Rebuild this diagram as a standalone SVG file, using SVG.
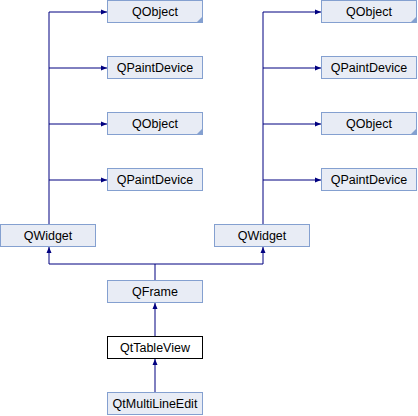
<svg xmlns="http://www.w3.org/2000/svg" width="418" height="416" viewBox="0 0 418 416">
<defs>
<style>
.n rect{fill:#e8ecf5;stroke:#84a0d0;stroke-width:1}
.n text{font-family:"Liberation Sans",Arial,sans-serif;font-size:12.5px;fill:#000;text-anchor:middle}
.n .c{fill:#84a0d0;stroke:none}
.e path{fill:none;stroke:#000080;stroke-width:1}
</style>
<marker id="a" viewBox="0 0 6 6" refX="6" refY="3" markerWidth="6" markerHeight="6" orient="auto" markerUnits="userSpaceOnUse">
<path d="M0,0.5 L6,3 L0,5.5 Z" fill="#000080"/>
</marker>
</defs>
<rect width="418" height="416" fill="#fff"/>
<g class="e" id="edges">
<path d="M49,224 V12 H107" marker-end="url(#a)"/>
<path d="M49,68 H107" marker-end="url(#a)"/>
<path d="M49,124 H107" marker-end="url(#a)"/>
<path d="M49,180 H107" marker-end="url(#a)"/>
<path d="M263,224 V12 H321" marker-end="url(#a)"/>
<path d="M263,68 H321" marker-end="url(#a)"/>
<path d="M263,124 H321" marker-end="url(#a)"/>
<path d="M263,180 H321" marker-end="url(#a)"/>
<path d="M155,280 V264 H49 V247" marker-end="url(#a)"/>
<path d="M155,264 H263 V247" marker-end="url(#a)"/>
<path d="M155,336 V303" marker-end="url(#a)"/>
<path d="M155,392 V359" marker-end="url(#a)"/>
</g>
<g class="n" id="n_qobject1"><rect x="107.5" y="0.5" width="95" height="22"/><polygon class="c" points="203,16 203,23 196,23"/><text x="155" y="16">QObject</text></g>
<g class="n" id="n_qpaintdevice1"><rect x="107.5" y="56.5" width="95" height="22"/><text x="155" y="72">QPaintDevice</text></g>
<g class="n" id="n_qobject2"><rect x="107.5" y="112.5" width="95" height="22"/><polygon class="c" points="203,128 203,135 196,135"/><text x="155" y="128">QObject</text></g>
<g class="n" id="n_qpaintdevice2"><rect x="107.5" y="168.5" width="95" height="22"/><text x="155" y="184">QPaintDevice</text></g>
<g class="n" id="n_qobject3"><rect x="321.5" y="0.5" width="95" height="22"/><polygon class="c" points="417,16 417,23 410,23"/><text x="369" y="16">QObject</text></g>
<g class="n" id="n_qpaintdevice3"><rect x="321.5" y="56.5" width="95" height="22"/><text x="369" y="72">QPaintDevice</text></g>
<g class="n" id="n_qobject4"><rect x="321.5" y="112.5" width="95" height="22"/><polygon class="c" points="417,128 417,135 410,135"/><text x="369" y="128">QObject</text></g>
<g class="n" id="n_qpaintdevice4"><rect x="321.5" y="168.5" width="95" height="22"/><text x="369" y="184">QPaintDevice</text></g>
<g class="n" id="n_qwidget1"><rect x="0.5" y="224.5" width="95" height="22"/><text x="48" y="240">QWidget</text></g>
<g class="n" id="n_qwidget2"><rect x="214.5" y="224.5" width="95" height="22"/><text x="262" y="240">QWidget</text></g>
<g class="n" id="n_qframe"><rect x="107.5" y="280.5" width="95" height="22"/><text x="155" y="296">QFrame</text></g>
<g class="n" id="n_qttableview"><rect x="107.5" y="336.5" width="95" height="22" style="fill:#fff;stroke:#000"/><text x="155" y="352">QtTableView</text></g>
<g class="n" id="n_qtmultilineedit"><rect x="107.5" y="392.5" width="95" height="22"/><text x="155" y="408">QtMultiLineEdit</text></g>
</svg>
